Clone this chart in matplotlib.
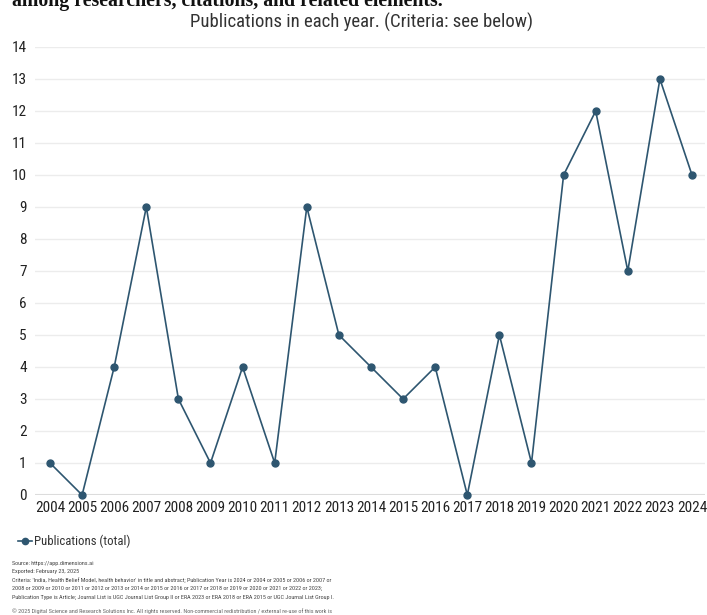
import matplotlib
matplotlib.use("Agg")
import matplotlib.pyplot as plt

years = list(range(2004, 2025))
publications = [1, 0, 4, 9, 3, 1, 4, 1, 9, 5, 4, 3, 4, 0, 5, 1, 10, 12, 7, 13, 10]
y_ticks = list(range(0, 15))

title = "Publications in each year. (Criteria: see below)"
series_name = "Publications (total)"
notes = [
    "Source: https://app.dimensions.ai",
    "Exported: February 23, 2025",
    "Criteria: 'India, Health Belief Model, health behavior' in title and abstract; Publication Year is 2024 or 2004 or 2005 or 2006 or 2007 or",
    "2008 or 2009 or 2010 or 2011 or 2012 or 2013 or 2014 or 2015 or 2016 or 2017 or 2018 or 2019 or 2020 or 2021 or 2022 or 2023;",
    "Publication Type is Article; Journal List is UGC Journal List Group II or ERA 2023 or ERA 2018 or ERA 2015 or UGC Journal List Group I.",
]
copyright_line = ("\u00a9 2025 Digital Science and Research Solutions Inc. All rights reserved. "
                  "Non-commercial redistribution / external re-use of this work is")
heading_tail = "among researchers, citations, and related elements."

plt.rcParams['font.family'] = ['Roboto Condensed', 'DejaVu Sans']

W, H = 707, 615
fig = plt.figure(figsize=(W / 100, H / 100), dpi=100)
fig.patch.set_facecolor('white')

ax = fig.add_axes([35 / W, 1 - 495 / H, 670 / W, 448 / H])
line_color = '#2e5670'
ax.plot(years, publications, color=line_color, lw=1.2, marker='o', ms=5,
        clip_on=False, zorder=3)

ax.set_xlim(2004 - 15 / 32.1, 2024 + 13 / 32.1)
ax.set_ylim(0, 14)
ax.set_xticks(years)
ax.set_yticks(y_ticks)
ax.tick_params(axis='both', length=0, labelsize=11, colors='#222222')
ax.tick_params(axis='x', pad=4)
ax.tick_params(axis='y', pad=6)
for s in ax.spines.values():
    s.set_visible(False)
ax.grid(axis='y', color='#ececec', lw=1)
ax.axhline(0, color='#dcdcdc', lw=1.5, zorder=1)
ax.set_axisbelow(True)

fig.text(362 / W, 1 - 22 / H, title, ha='center', va='center',
         fontsize=13.5, color='#333333')

# legend entry below the axes
leg_y = 1 - 541 / H
fig.lines.append(plt.Line2D([18 / W, 25 / W, 32 / W], [leg_y] * 3,
                            color=line_color, lw=1.2, marker='o', ms=4.5,
                            markevery=[1], transform=fig.transFigure))
fig.text(34 / W, leg_y, series_name, ha='left', va='center',
         fontsize=9.2, color='#333333')

for i, t in enumerate(notes):
    fig.text(12 / W, 1 - (563 + i * 8.5) / H, t, ha='left', va='center',
             fontsize=4.4, color='#444444')
fig.text(12 / W, 1 - 611 / H, copyright_line, ha='left', va='center',
         fontsize=4.4, color='#666666')

# tail of the page heading cut off at the top edge
fig.text(12 / W, 1 - 6 / H, heading_tail, ha='left', va='baseline',
         fontsize=14.3, fontweight='bold', family='Liberation Serif', color='#111111')

fig.savefig('out.png', dpi=100)
